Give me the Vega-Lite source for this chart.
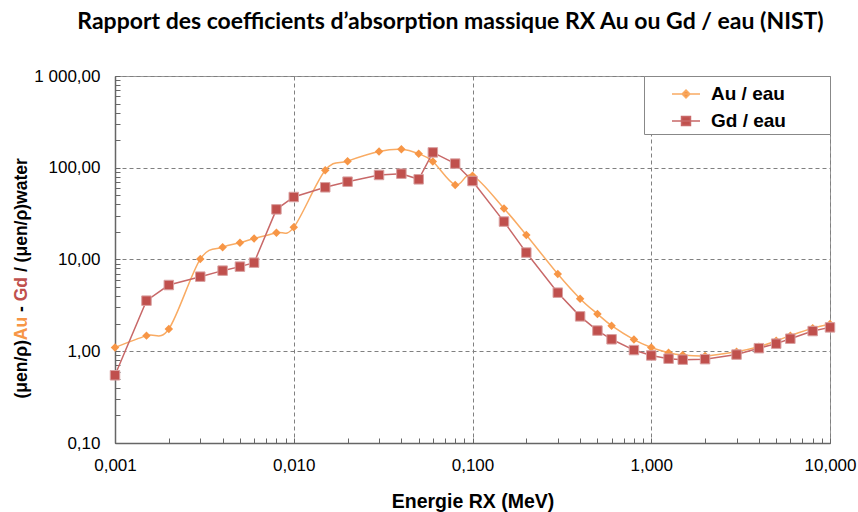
{
  "$schema": "https://vega.github.io/schema/vega-lite/v6.json",
  "width": 715,
  "height": 367,
  "autosize": {"type": "none"},
  "padding": {"left": 115, "top": 76, "right": 28, "bottom": 69},
  "background": "white",
  "title": {
    "text": "Rapport des coefficients d’absorption massique RX Au ou Gd / eau (NIST)",
    "font": "Lato", "fontSize": 23, "fontWeight": "bold", "color": "#000000",
    "anchor": "middle", "dx": -22, "offset": 15, "baseline": "alphabetic"
  },
  "config": {
    "locale": {"number": {"decimal": ",", "thousands": " ", "grouping": [3], "currency": ["", " €"]}},
    "view": {"stroke": "#999999", "strokeWidth": 1},
    "axis": {
      "labelFont": "Liberation Sans", "labelFontSize": 17, "labelColor": "#000000",
      "domainColor": "#666666", "domainWidth": 1.5,
      "tickColor": "#666666", "tickSize": -5, "tickWidth": 1,
      "labelOverlap": false, "labelFlush": false,
      "gridColor": "#808080", "gridDash": [4, 3], "gridWidth": 1
    },
    "axisY": {
      "titleX": -94, "titleAlign": "left", "titleAngle": 270, "titleBaseline": "middle",
      "titleFont": "Liberation Sans", "titleFontSize": 17.5, "titleFontWeight": "bold", "titleColor": "#000000"
    }
  },
  "data": {"values": [
    {"E": 0.001, "v": 1.10, "s": "Au"},
    {"E": 0.0015, "v": 1.48, "s": "Au"},
    {"E": 0.002, "v": 1.75, "s": "Au"},
    {"E": 0.003, "v": 10.1, "s": "Au"},
    {"E": 0.004, "v": 13.6, "s": "Au"},
    {"E": 0.005, "v": 15.2, "s": "Au"},
    {"E": 0.006, "v": 16.9, "s": "Au"},
    {"E": 0.008, "v": 19.6, "s": "Au"},
    {"E": 0.01, "v": 22.4, "s": "Au"},
    {"E": 0.015, "v": 93.7, "s": "Au"},
    {"E": 0.02, "v": 118, "s": "Au"},
    {"E": 0.03, "v": 150, "s": "Au"},
    {"E": 0.04, "v": 159, "s": "Au"},
    {"E": 0.05, "v": 142, "s": "Au"},
    {"E": 0.06, "v": 117, "s": "Au"},
    {"E": 0.08, "v": 65, "s": "Au"},
    {"E": 0.1, "v": 82, "s": "Au"},
    {"E": 0.15, "v": 36, "s": "Au"},
    {"E": 0.2, "v": 18.5, "s": "Au"},
    {"E": 0.3, "v": 6.95, "s": "Au"},
    {"E": 0.4, "v": 3.74, "s": "Au"},
    {"E": 0.5, "v": 2.55, "s": "Au"},
    {"E": 0.6, "v": 1.90, "s": "Au"},
    {"E": 0.8, "v": 1.34, "s": "Au"},
    {"E": 1, "v": 1.10, "s": "Au"},
    {"E": 1.25, "v": 0.965, "s": "Au"},
    {"E": 1.5, "v": 0.91, "s": "Au"},
    {"E": 2, "v": 0.89, "s": "Au"},
    {"E": 3, "v": 0.99, "s": "Au"},
    {"E": 4, "v": 1.12, "s": "Au"},
    {"E": 5, "v": 1.30, "s": "Au"},
    {"E": 6, "v": 1.48, "s": "Au"},
    {"E": 8, "v": 1.78, "s": "Au"},
    {"E": 10, "v": 1.98, "s": "Au"},
    {"E": 0.001, "v": 0.547, "s": "Gd"},
    {"E": 0.0015, "v": 3.56, "s": "Gd"},
    {"E": 0.002, "v": 5.27, "s": "Gd"},
    {"E": 0.003, "v": 6.50, "s": "Gd"},
    {"E": 0.004, "v": 7.56, "s": "Gd"},
    {"E": 0.005, "v": 8.36, "s": "Gd"},
    {"E": 0.006, "v": 9.24, "s": "Gd"},
    {"E": 0.008, "v": 35.2, "s": "Gd"},
    {"E": 0.01, "v": 48.0, "s": "Gd"},
    {"E": 0.015, "v": 61.2, "s": "Gd"},
    {"E": 0.02, "v": 70.5, "s": "Gd"},
    {"E": 0.03, "v": 83.4, "s": "Gd"},
    {"E": 0.04, "v": 86.2, "s": "Gd"},
    {"E": 0.05, "v": 74.8, "s": "Gd"},
    {"E": 0.06, "v": 147, "s": "Gd"},
    {"E": 0.08, "v": 111, "s": "Gd"},
    {"E": 0.1, "v": 71.7, "s": "Gd"},
    {"E": 0.15, "v": 25.9, "s": "Gd"},
    {"E": 0.2, "v": 11.9, "s": "Gd"},
    {"E": 0.3, "v": 4.35, "s": "Gd"},
    {"E": 0.4, "v": 2.40, "s": "Gd"},
    {"E": 0.5, "v": 1.68, "s": "Gd"},
    {"E": 0.6, "v": 1.35, "s": "Gd"},
    {"E": 0.8, "v": 1.03, "s": "Gd"},
    {"E": 1, "v": 0.90, "s": "Gd"},
    {"E": 1.25, "v": 0.83, "s": "Gd"},
    {"E": 1.5, "v": 0.81, "s": "Gd"},
    {"E": 2, "v": 0.82, "s": "Gd"},
    {"E": 3, "v": 0.92, "s": "Gd"},
    {"E": 4, "v": 1.08, "s": "Gd"},
    {"E": 5, "v": 1.21, "s": "Gd"},
    {"E": 6, "v": 1.37, "s": "Gd"},
    {"E": 8, "v": 1.66, "s": "Gd"},
    {"E": 10, "v": 1.82, "s": "Gd"}
  ]},
  "encoding": {
    "x": {
      "field": "E", "type": "quantitative",
      "scale": {"type": "log", "domain": [0.001, 10]},
      "axis": {
        "values": [0.001, 0.002, 0.003, 0.004, 0.005, 0.006, 0.007, 0.008, 0.009, 0.01, 0.02, 0.03, 0.04, 0.05, 0.06, 0.07, 0.08, 0.09, 0.1, 0.2, 0.3, 0.4, 0.5, 0.6, 0.7, 0.8, 0.9, 1, 2, 3, 4, 5, 6, 7, 8, 9, 10],
        "format": ",.3f",
        "labelExpr": "abs(log(datum.value)/LN10 - round(log(datum.value)/LN10)) < 1e-6 ? datum.label : ''",
        "grid": true,
        "gridOpacity": {"condition": {"test": "abs(log(datum.value)/LN10 - round(log(datum.value)/LN10)) < 1e-6", "value": 1}, "value": 0},
        "labelPadding": 19,
        "title": "Energie RX (MeV)",
        "titleFont": "Liberation Sans", "titleFontSize": 19.5, "titleFontWeight": "bold", "titleColor": "#000000",
        "titleY": 64, "titleBaseline": "alphabetic"
      }
    }
  },
  "layer": [
    {
      "transform": [{"filter": "datum.s === 'Au'"}],
      "mark": {"type": "line", "interpolate": "cardinal", "color": "#F9AB63", "strokeWidth": 1.5},
      "encoding": {
        "y": {
          "field": "v", "type": "quantitative",
          "scale": {"type": "log", "domain": [0.1, 1000]},
          "axis": {
            "values": [0.1, 0.2, 0.3, 0.4, 0.5, 0.6, 0.7, 0.8, 0.9, 1, 2, 3, 4, 5, 6, 7, 8, 9, 10, 20, 30, 40, 50, 60, 70, 80, 90, 100, 200, 300, 400, 500, 600, 700, 800, 900, 1000],
            "format": ",.2f",
            "labelExpr": "abs(log(datum.value)/LN10 - round(log(datum.value)/LN10)) < 1e-6 ? datum.label : ''",
            "grid": true,
            "gridOpacity": {"condition": {"test": "abs(log(datum.value)/LN10 - round(log(datum.value)/LN10)) < 1e-6", "value": 1}, "value": 0},
            "labelPadding": 20,
            "orient": "left",
            "title": "(μen/ρ)", "titleY": 322
          }
        }
      }
    },
    {
      "transform": [{"filter": "datum.s === 'Gd'"}],
      "mark": {"type": "line", "color": "#C86868", "strokeWidth": 1.5},
      "encoding": {
        "y": {
          "field": "v", "type": "quantitative",
          "scale": {"type": "log", "domain": [0.1, 1000]},
          "axis": {"orient": "left", "domain": false, "ticks": false, "labels": false, "grid": false,
                   "title": "Au", "titleY": 263.7, "titleColor": "#F79646"}
        }
      }
    },
    {
      "transform": [{"filter": "datum.s === 'Au'"}],
      "mark": {"type": "point", "filled": true, "shape": "diamond", "size": 72, "color": "#F79646", "opacity": 1},
      "encoding": {
        "y": {
          "field": "v", "type": "quantitative",
          "scale": {"type": "log", "domain": [0.1, 1000]},
          "axis": {"orient": "left", "domain": false, "ticks": false, "labels": false, "grid": false,
                   "title": "-", "titleY": 235.5}
        }
      }
    },
    {
      "transform": [{"filter": "datum.s === 'Gd'"}],
      "mark": {"type": "point", "filled": true, "shape": "square", "size": 90, "fill": "#C0504D", "stroke": "#D9A0A0", "strokeWidth": 1, "opacity": 1},
      "encoding": {
        "y": {
          "field": "v", "type": "quantitative",
          "scale": {"type": "log", "domain": [0.1, 1000]},
          "axis": {"orient": "left", "domain": false, "ticks": false, "labels": false, "grid": false,
                   "title": "Gd", "titleY": 224.8, "titleColor": "#C0504D"}
        }
      }
    },
    {
      "transform": [{"filter": "datum.v < 0"}],
      "mark": {"type": "point", "filled": true, "size": 784, "strokeWidth": 1.5, "opacity": 1},
      "encoding": {
        "y": {
          "field": "v", "type": "quantitative",
          "scale": {"type": "log", "domain": [0.1, 1000]},
          "axis": {"orient": "left", "domain": false, "ticks": false, "labels": false, "grid": false,
                   "title": "/ (μen/ρ)water", "titleY": 195.6}
        },
        "fill": {
          "field": "s", "type": "nominal",
          "scale": {"domain": ["Au", "Gd"], "range": ["#F79646", "#C0504D"]},
          "legend": {
            "orient": "top-right", "offset": 0, "title": null, "padding": 3,
            "strokeColor": "#888888", "fillColor": "#ffffff",
            "symbolSize": 784, "symbolOffset": 24, "symbolStrokeWidth": 1.5,
            "labelOffset": 10, "labelFont": "Liberation Sans", "labelFontSize": 19, "labelFontWeight": "bold", "labelColor": "#000000",
            "rowPadding": 2, "labelLimit": 300,
            "labelExpr": "datum.label + ' / eau' + '\u00a0\u00a0\u00a0\u00a0\u00a0\u2800'"
          }
        },
        "stroke": {
          "field": "s", "type": "nominal",
          "scale": {"domain": ["Au", "Gd"], "range": ["#F9AB63", "#C86868"]}
        },
        "shape": {
          "field": "s", "type": "nominal",
          "scale": {"domain": ["Au", "Gd"], "range": ["M-1,0L1,0M0,-0.28L0.28,0L0,0.28L-0.28,0Z", "M-1,0L1,0M-0.32,-0.32L0.32,-0.32L0.32,0.32L-0.32,0.32Z"]}
        }
      }
    }
  ],
  "resolve": {"scale": {"y": "independent"}}
}
